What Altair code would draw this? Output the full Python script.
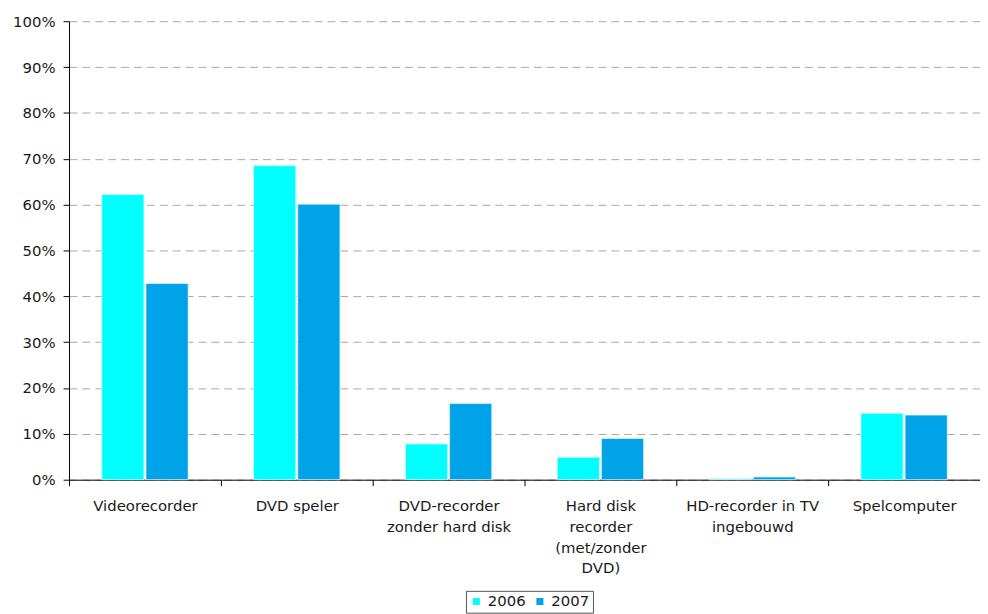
import altair as alt
import pandas as pd

categories = [
    "Videorecorder",
    "DVD speler",
    "DVD-recorder|zonder hard disk",
    "Hard disk|recorder|(met/zonder|DVD)",
    "HD-recorder in TV|ingebouwd",
    "Spelcomputer",
]
years = ["2006", "2007"]
values_2006 = [62.2, 68.5, 7.8, 4.9, 0.2, 14.5]
values_2007 = [42.8, 60.1, 16.6, 9.0, 0.6, 14.1]
y_ticks = [i / 10 for i in range(11)]
colors = ["#00FFFF", "#00A2E8"]

rows = []
for c, a, b in zip(categories, values_2006, values_2007):
    rows.append({"cat": c, "year": years[0], "value": a / 100})
    rows.append({"cat": c, "year": years[1], "value": b / 100})
df = pd.DataFrame(rows)

FONT = "DejaVu Sans"
TEXT = "#1a1a1a"

chart = alt.Chart(df).mark_bar(stroke="#d8f4ff", strokeWidth=0.8).encode(
    x=alt.X(
        "cat:N",
        sort=categories,
        scale=alt.Scale(paddingInner=0, paddingOuter=0),
        axis=alt.Axis(
            title=None,
            labelAngle=0,
            labelExpr="split(datum.label, '|')",
            tickBand="extent",
            tickSize=6,
            labelPadding=13,
            labelLineHeight=21,
            grid=False,
        ),
    ),
    xOffset=alt.XOffset(
        "year:N",
        scale=alt.Scale(paddingInner=0.045, paddingOuter=0.74),
    ),
    y=alt.Y(
        "value:Q",
        scale=alt.Scale(domain=[0, 1], nice=False),
        axis=alt.Axis(
            title=None,
            format=".0%",
            values=y_ticks,
            tickSize=6,
            labelPadding=8,
            grid=True,
            gridDash=[8, 5],
            gridColor="#a8a8a8",
        ),
    ),
    color=alt.Color(
        "year:N",
        scale=alt.Scale(domain=years, range=colors),
        legend=alt.Legend(
            title=None,
            orient="none",
            legendX=400,
            legendY=574,
            direction="horizontal",
            symbolType="square",
            symbolSize=50,
            symbolStrokeWidth=0,
            labelFontSize=15,
            labelFont=FONT,
            labelColor=TEXT,
            strokeColor="#555555",
            padding=3,
            columnPadding=6,
            labelOffset=4,
        ),
    ),
).properties(
    width=918,
    height=462,
    padding={"left": 61.5, "top": 11, "right": 0, "bottom": 133},
    autosize=alt.AutoSizeParams(type="none"),
).configure_view(
    stroke=None
).configure_axis(
    labelFont=FONT,
    labelFontSize=15,
    labelColor=TEXT,
    domainColor="#000000",
    tickColor="#000000",
    domainWidth=1,
    tickWidth=1,
)

chart.save("out.html", embed_options={"renderer": "svg", "actions": False})
